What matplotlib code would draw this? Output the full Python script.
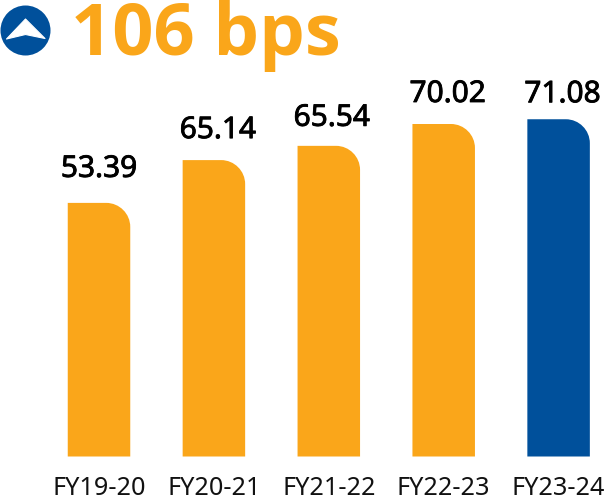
#!/usr/bin/env python3
"""Bar chart of yearly values with a rounded top right corner on each bar."""

import matplotlib
matplotlib.use('Agg')
import matplotlib.pyplot as plt
import matplotlib.patheffects as pe
from matplotlib.patches import Circle, PathPatch, Polygon
from matplotlib.path import Path
from matplotlib.transforms import Affine2D

W, H = 605, 497

years = ['FY19-20', 'FY20-21', 'FY21-22', 'FY22-23', 'FY23-24']
value_labels = ['53.39', '65.14', '65.54', '70.02', '71.08']
# heights as drawn in the picture (the FY20-21 bar is shorter than its label says)
bar_heights = [53.39, 62.4, 65.4, 70.0, 71.0]
bar_colors = ['#FAA61A', '#FAA61A', '#FAA61A', '#FAA61A', '#00509B']
headline = '106 bps'

# the labels do not sit evenly over the bars, offsets in pixels
label_dx = [0, 4, 3, 4, 4]
label_gap = [26, 22, 20, 22, 17]

ORANGE = '#FAA61A'
BLUE = '#00509B'
FONT = 'Noto Sans'

PX_PER_CAT = 114.9
PX_PER_UNIT = 4.75
X0_PX = 99.0
BASE_PX = 456.5
BAR_W = 62.5 / PX_PER_CAT
CORNER_PX = 24.0
K = 0.55


def rounded_bar(x, h, color, ax):
    """Bar with only the top right corner rounded."""
    rx = CORNER_PX / PX_PER_CAT
    ry = CORNER_PX / PX_PER_UNIT
    l, r = x - BAR_W / 2, x + BAR_W / 2
    verts = [(l, 0), (l, h), (r - rx, h), (r - rx + K * rx, h), (r, h - ry + K * ry),
             (r, h - ry), (r, 0), (l, 0)]
    codes = [Path.MOVETO, Path.LINETO, Path.LINETO, Path.CURVE4, Path.CURVE4, Path.CURVE4,
             Path.LINETO, Path.CLOSEPOLY]
    ax.add_patch(PathPatch(Path(verts, codes), facecolor=color, edgecolor='none'))


fig = plt.figure(figsize=(W / 100, H / 100), dpi=100)
ax = fig.add_axes([0, (H - BASE_PX) / H, 1, BASE_PX / H])
ax.set_xlim(-X0_PX / PX_PER_CAT, (W - X0_PX) / PX_PER_CAT)
ax.set_ylim(0, BASE_PX / PX_PER_UNIT)

for i, (h, c) in enumerate(zip(bar_heights, bar_colors)):
    rounded_bar(i, h, c, ax)
    t = ax.annotate(value_labels[i], (i, h), xytext=(label_dx[i], label_gap[i]),
                    textcoords='offset pixels', ha='center', va='baseline',
                    fontsize=21.5, family=FONT, color='black')
    t.set_path_effects([pe.withStroke(linewidth=0.6, foreground='black')])

ax.set_xticks(range(len(years)), years, family=FONT, fontsize=18.2, color='#111111')
ax.tick_params(axis='x', length=0, pad=14)
ax.set_yticks([])
for s in ax.spines.values():
    s.set_visible(False)
ax.patch.set_alpha(0)

# icon and headline are placed in picture pixels, y going down
px = Affine2D().scale(1, -1).translate(0, H)
fig.add_artist(Circle((25.5, 30.5), 25, transform=px, facecolor=BLUE, edgecolor='none'))
arrow = [(25.5, 19), (45, 38.5), (25.5, 34.5), (6.5, 39)]
fig.add_artist(Polygon(arrow, closed=True, transform=px, facecolor='white',
                       edgecolor='white', linewidth=0.8, joinstyle='round'))
fig.text(71 / W, 1 - 55.5 / H, headline, fontsize=52, family='Open Sans', fontweight='bold',
         color=ORANGE, ha='left', va='baseline')

fig.savefig('out.png', dpi=100)
